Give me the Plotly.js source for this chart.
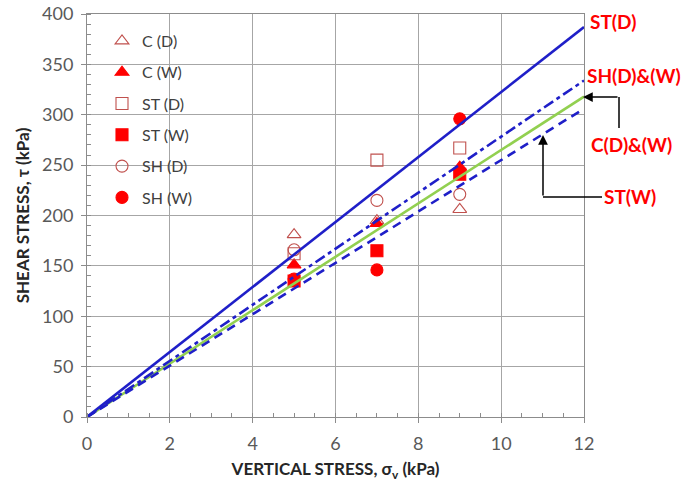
<!DOCTYPE html>
<html>
<head>
<meta charset="utf-8">
<script src="https://cdn.plot.ly/plotly-3.0.1.min.js"></script>
<style>html,body{margin:0;padding:0;background:#fff;}#chart{width:688px;height:486px;}</style>
</head>
<body>
<div id="chart"></div>
<script>
// ---- data ----
const xStress = [5, 7, 9];
const cD  = [181, 195, 206];
const cW  = [151, 192, 248];
const stD = [162, 255, 267];
const stW = [135, 165, 241];
const shD = [166, 215, 221];
const shW = [137, 146, 296];

const lineX = [0, 12];
const lineStD  = [0, 387];
const lineShDW = [0, 334];
const lineCDW  = [0, 318];
const lineStW  = [0, 306];

const xTicks = [0, 2, 4, 6, 8, 10, 12];
const yTicks = [0, 50, 100, 150, 200, 250, 300, 350, 400];

// ---- layout helpers ----
const W = 688, H = 486;
const M = {l: 87, r: 104, t: 14, b: 69};
const PW = W - M.l - M.r, PH = H - M.t - M.b;
const px = v => (v - M.l) / PW;
const py = v => (H - M.b - v) / PH;

const openRed = '#C0504D';
const red = '#FF0000';
const blue = '#1F1FC8';
const green = '#92D050';

function pts(name, y, symbol, color) {
  return {x: xStress, y: y, type: 'scatter', mode: 'markers', name: name,
    legendgroup: name,
    marker: {symbol: symbol, size: 12, color: color, line: {color: color, width: 1.1}}};
}
function ln(y, color, dash) {
  return {x: lineX, y: y, type: 'scatter', mode: 'lines', showlegend: false,
    line: {color: color, width: 2.6, dash: dash}, hoverinfo: 'skip'};
}

const traces = [
  pts('C (D)', cD, 'triangle-up-open', openRed),
  pts('C (W)', cW, 'triangle-up', red),
  pts('ST (D)', stD, 'square-open', openRed),
  pts('ST (W)', stW, 'square', red),
  pts('SH (D)', shD, 'circle-open', openRed),
  pts('SH (W)', shW, 'circle', red),
  ln(lineCDW, green, 'solid'),
  ln(lineStW, blue, '9px,6px'),
  ln(lineShDW, blue, '11px,4px,4px,4px'),
  ln(lineStD, blue, 'solid')
];

const lab = {family: 'Lato, "Open Sans", sans-serif', size: 19, color: red, weight: 'bold'};

const layout = {
  width: W, height: H,
  margin: M,
  paper_bgcolor: '#fff', plot_bgcolor: '#fff',
  font: {family: 'Lato, "Open Sans", sans-serif', color: '#404040'},
  showlegend: true,
  legend: {x: px(102), y: py(24), xanchor: 'left', yanchor: 'top',
    bgcolor: 'rgba(255,255,255,0)', traceorder: 'grouped', tracegroupgap: 7.5,
    font: {size: 16, color: '#404040'}, itemwidth: 30},
  xaxis: {range: [0, 12], tickvals: xTicks, ticktext: xTicks.map(String),
    showgrid: true, gridcolor: '#a6a6a6', gridwidth: 1,
    showline: true, linecolor: '#8c8c8c', linewidth: 1, mirror: true,
    zeroline: false, ticks: 'outside', ticklen: 5, tickcolor: '#8c8c8c',
    tickfont: {size: 18, color: '#595959'}, ticklabelstandoff: 5,
    minor: {dtick: 0.5, ticks: 'inside', ticklen: 4, tickcolor: '#8c8c8c', showgrid: false},
    title: {text: '<b>VERTICAL STRESS, σ<sub>v</sub> (kPa)</b>', font: {size: 17, color: '#262626'}, standoff: 10}},
  yaxis: {range: [0, 400], tickvals: yTicks, ticktext: yTicks.map(String),
    showgrid: true, gridcolor: '#a6a6a6', gridwidth: 1,
    showline: true, linecolor: '#8c8c8c', linewidth: 1, mirror: true,
    zeroline: false, ticks: 'outside', ticklen: 5, tickcolor: '#8c8c8c',
    tickfont: {size: 18, color: '#595959'}, ticklabelstandoff: 4,
    minor: {dtick: 10, ticks: 'inside', ticklen: 4, tickcolor: '#8c8c8c', showgrid: false},
    title: {text: '<b>SHEAR STRESS, τ (kPa)</b>', font: {size: 17, color: '#262626'}, standoff: 8}},
  annotations: [
    {xref: 'paper', yref: 'paper', x: px(588), y: py(22), xanchor: 'left', yanchor: 'middle', showarrow: false, text: '<b>ST(D)</b>', font: lab},
    {xref: 'paper', yref: 'paper', x: px(585), y: py(75), xanchor: 'left', yanchor: 'middle', showarrow: false, text: '<b>SH(D)&amp;(W)</b>', font: lab},
    {xref: 'paper', yref: 'paper', x: px(589), y: py(145), xanchor: 'left', yanchor: 'middle', showarrow: false, text: '<b>C(D)&amp;(W)</b>', font: lab},
    {xref: 'paper', yref: 'paper', x: px(602), y: py(197), xanchor: 'left', yanchor: 'middle', showarrow: false, text: '<b>ST(W)</b>', font: lab},
    {xref: 'paper', yref: 'paper', x: px(583), y: py(97), showarrow: true, ax: 36, ay: 0, text: '',
      arrowhead: 2, arrowsize: 1.3, arrowwidth: 1.5, arrowcolor: '#000'},
    {xref: 'paper', yref: 'paper', x: px(543), y: py(135), showarrow: true, ax: 0, ay: 62, text: '',
      arrowhead: 2, arrowsize: 1.3, arrowwidth: 1.5, arrowcolor: '#000'}
  ],
  shapes: [
    {type: 'line', xref: 'paper', yref: 'paper', x0: px(619), y0: py(97), x1: px(619), y1: py(128), line: {color: '#000', width: 1.5}},
    {type: 'line', xref: 'paper', yref: 'paper', x0: px(543), y0: py(197), x1: px(602), y1: py(197), line: {color: '#000', width: 1.5}}
  ]
};

Plotly.newPlot('chart', traces, layout, {displayModeBar: false, staticPlot: true});
</script>
</body>
</html>
